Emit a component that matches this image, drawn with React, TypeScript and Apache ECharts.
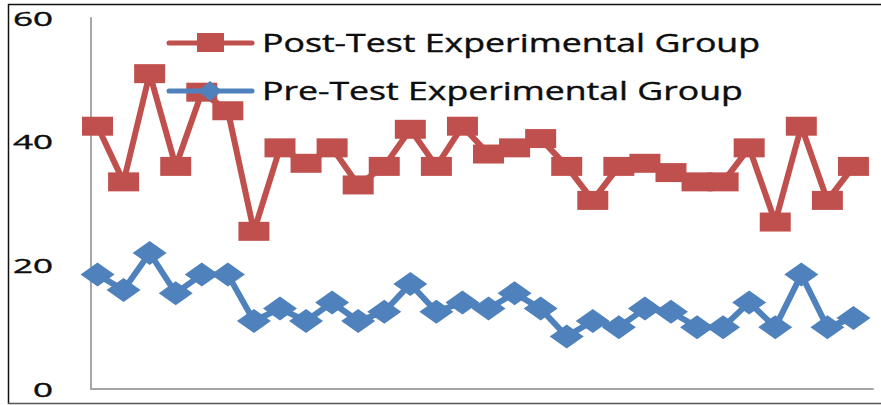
import React, { useEffect, useRef } from "react";
import * as echarts from "echarts";

const categories = [1, 2, 3, 4, 5, 6, 7, 8, 9, 10, 11, 12, 13, 14, 15, 16, 17, 18, 19, 20, 21, 22, 23, 24, 25, 26, 27, 28, 29, 30];
const postTest = [42.5, 33.5, 51, 36, 48, 45, 25.5, 39, 36.5, 39, 33, 36, 42, 36, 42.5, 38, 39, 40.5, 36, 30.5, 36, 36.5, 35, 33.5, 33.5, 39, 27, 42.5, 30.5, 36];
const preTest = [18.5, 16, 22, 15.5, 18.5, 18.5, 11, 13, 11, 14, 11, 12.5, 17, 12.5, 14, 13, 15.5, 13, 8.5, 11, 10, 13, 12.5, 10, 10, 14, 10, 18.5, 10, 11.5];
const yTicks = [0, 20, 40, 60];
const seriesNames = ["Post-Test Experimental Group", "Pre-Test Experimental Group"];

const RED = "#C0504D";
const BLUE = "#4F81BD";
const TEXT = "#0d0d0d";
const FONT = '"Open Sans", "Noto Sans", sans-serif';

function measure(text: string, size: number): number {
  const c = document.createElement("canvas").getContext("2d");
  if (!c) return text.length * size * 0.55;
  c.font = `${size}px "Open Sans"`;
  return c.measureText(text).width;
}

export default function App() {
  const ref = useRef<HTMLDivElement>(null);
  useEffect(() => {
    if (!ref.current) return;
    const chart = echarts.init(ref.current, undefined, { renderer: "svg" });
    chart.setOption({
      animation: false,
      backgroundColor: "#ffffff",
      grid: { left: 91, right: 8, top: 18, bottom: 16 },
      xAxis: {
        type: "value",
        min: 0.75,
        max: 30.75,
        axisLine: { show: true, onZero: false, lineStyle: { color: "#a6a6a6", width: 2 } },
        axisTick: { show: false },
        axisLabel: { show: false },
        splitLine: { show: false },
      },
      yAxis: {
        type: "value",
        min: 0,
        max: 60,
        interval: 20,
        axisLine: { show: true, lineStyle: { color: "#a6a6a6", width: 2 } },
        axisTick: { show: false },
        axisLabel: { show: false },
        splitLine: { show: false },
      },
      series: [
        {
          name: seriesNames[0],
          type: "line",
          data: categories.map((c, i) => [c, postTest[i]]),
          lineStyle: { color: RED, width: 6 },
          itemStyle: { color: RED },
          symbol: "rect",
          symbolSize: [31, 19],
          z: 2,
        },
        {
          name: seriesNames[1],
          type: "line",
          data: categories.map((c, i) => [c, preTest[i]]),
          lineStyle: { color: BLUE, width: 6 },
          itemStyle: { color: BLUE },
          symbol: "diamond",
          symbolSize: [34, 24],
          z: 3,
        },
      ],
    });

    const labelSize = 20;
    const labelScale = 40 / measure("60", labelSize);
    const legSize = 25;
    const postScale = 498 / measure(seriesNames[0], legSize);
    const preScale = 481 / measure(seriesNames[1], legSize);

    const graphics: any[] = [];
    yTicks.forEach((v) => {
      const py = chart.convertToPixel({ yAxisIndex: 0 }, v) as number;
      graphics.push({
        type: "text",
        x: 53,
        y: py,
        scaleX: labelScale,
        z: 10,
        style: {
          text: String(v),
          fontFamily: FONT,
          fontSize: labelSize,
          fill: TEXT,
          stroke: TEXT,
          lineWidth: 0.4,
          align: "right",
          verticalAlign: "middle",
        },
      });
    });
    // legend
    graphics.push(
      { type: "line", z: 20, shape: { x1: 169, y1: 43, x2: 252, y2: 43 }, style: { stroke: RED, lineWidth: 5, lineCap: "round" } },
      { type: "rect", z: 21, shape: { x: 197, y: 33, width: 27, height: 19 }, style: { fill: RED } },
      {
        type: "text", z: 21, x: 262, y: 42, scaleX: postScale,
        style: { text: seriesNames[0], fontFamily: FONT, fontSize: legSize, fill: TEXT, stroke: TEXT, lineWidth: 0.4, align: "left", verticalAlign: "middle" },
      },
      { type: "line", z: 20, shape: { x1: 169, y1: 91, x2: 252, y2: 91 }, style: { stroke: BLUE, lineWidth: 5, lineCap: "round" } },
      { type: "polygon", z: 21, shape: { points: [[210, 81], [222, 91], [210, 101], [198, 91]] }, style: { fill: BLUE } },
      {
        type: "text", z: 21, x: 262, y: 90, scaleX: preScale,
        style: { text: seriesNames[1], fontFamily: FONT, fontSize: legSize, fill: TEXT, stroke: TEXT, lineWidth: 0.4, align: "left", verticalAlign: "middle" },
      },
      // frame
      { type: "line", z: 30, shape: { x1: 8, y1: 4.5, x2: 881, y2: 4.5 }, style: { stroke: "#111", lineWidth: 1.5 } },
      { type: "line", z: 30, shape: { x1: 8.5, y1: 4, x2: 8.5, y2: 404 }, style: { stroke: "#111", lineWidth: 1.5 } },
      { type: "line", z: 30, shape: { x1: 8, y1: 403.5, x2: 881, y2: 403.5 }, style: { stroke: "#555", lineWidth: 1.5 } }
    );
    chart.setOption({ graphic: graphics });

    return () => chart.dispose();
  }, []);
  return (
    <div
      ref={ref}
      style={{ position: "fixed", left: 0, top: 0, width: 881, height: 405 }}
    />
  );
}
